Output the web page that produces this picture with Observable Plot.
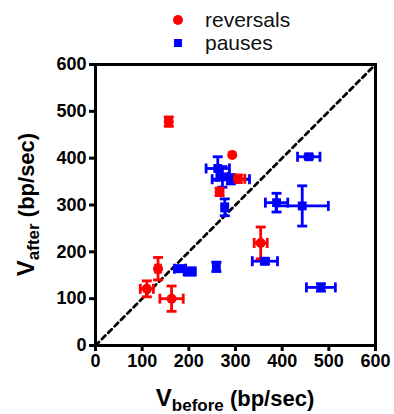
<!DOCTYPE html>
<html>
<head>
<meta charset="utf-8">
<script src="https://cdn.jsdelivr.net/npm/d3@7"></script>
<script src="https://cdn.jsdelivr.net/npm/@observablehq/plot@0.6"></script>
<style>
  html, body { margin: 0; padding: 0; background: #fff; }
  #chart svg g[aria-label$="tick"] { stroke-width: 3px; }
</style>
</head>
<body>
<div id="chart"></div>
<script>
// ---- data ----
const xTicks = [0, 100, 200, 300, 400, 500, 600];
const yTicks = [0, 100, 200, 300, 400, 500, 600];
const identityLine = [0, 600];

const revX    = [157, 293, 305, 266, 354, 134, 110, 163];
const revY    = [478, 407, 356, 328, 219, 164, 121, 100];
const revXErr = [6,   0,   15,  5,   14,  5,   14,  25];
const revYErr = [10,  0,   8,   8,   34,  24,  17,  27];

const pauX    = [262, 272, 290, 277, 457, 388, 443, 363, 483, 181, 202, 259];
const pauY    = [378, 360, 355, 295, 403, 305, 298, 180, 124, 164, 158, 168];
const pauXErr = [25,  12,  40,  6,   24,  24,  56,  27,  31,  12,  12,  4];
const pauYErr = [25,  22,  10,  18,  4,   20,  43,  6,   8,   6,   8,   10];

const seriesNames = ["reversals", "pauses"];
const seriesColors = ["#ff0000", "#0000ff"];

// ---- build tables ----
function table(xs, ys, xe, ye, series) {
  return xs.map((x, i) => ({x, y: ys[i], xe: xe[i], ye: ye[i], series}));
}
const rev = table(revX, revY, revXErr, revYErr, seriesNames[0]);
const pau = table(pauX, pauY, pauXErr, pauYErr, seriesNames[1]);
const all = [...pau, ...rev];
const withXErr = all.filter(d => d.xe > 0);
const withYErr = all.filter(d => d.ye > 0);

const capV = {draw(ctx, size) { const r = Math.sqrt(size / Math.PI); ctx.moveTo(0, -r); ctx.lineTo(0, r); }};
const capH = {draw(ctx, size) { const r = Math.sqrt(size / Math.PI); ctx.moveTo(-r, 0); ctx.lineTo(r, 0); }};
const colorOf = d => d.series === seriesNames[0] ? seriesColors[0] : seriesColors[1];

const errW = 2.8, capR = 5;

const chart = Plot.plot({
  width: 394,
  height: 414,
  marginLeft: 95,
  marginRight: 19,
  marginTop: 64,
  marginBottom: 69,
  style: {fontFamily: "'Liberation Sans', Arial, sans-serif", fontSize: "18px", fontWeight: "bold", color: "#000", background: "#fff"},
  x: {domain: [0, 600], ticks: xTicks, tickSize: 6, tickPadding: 3, label: null},
  y: {domain: [0, 600], ticks: yTicks, tickSize: 6, tickPadding: 3, label: null},
  marks: [
    Plot.line(identityLine, {x: d => d, y: d => d, stroke: "#000", strokeWidth: 2.8, strokeDasharray: "5,4"}),
    // error bars
    Plot.ruleY(withXErr, {y: "y", x1: d => d.x - d.xe, x2: d => d.x + d.xe, stroke: colorOf, strokeWidth: errW}),
    Plot.ruleX(withYErr, {x: "x", y1: d => d.y - d.ye, y2: d => d.y + d.ye, stroke: colorOf, strokeWidth: errW}),
    Plot.dot(withXErr, {x: d => d.x - d.xe, y: "y", symbol: capV, r: capR, stroke: colorOf, strokeWidth: errW, fill: "none"}),
    Plot.dot(withXErr, {x: d => d.x + d.xe, y: "y", symbol: capV, r: capR, stroke: colorOf, strokeWidth: errW, fill: "none"}),
    Plot.dot(withYErr, {x: "x", y: d => d.y - d.ye, symbol: capH, r: capR, stroke: colorOf, strokeWidth: errW, fill: "none"}),
    Plot.dot(withYErr, {x: "x", y: d => d.y + d.ye, symbol: capH, r: capR, stroke: colorOf, strokeWidth: errW, fill: "none"}),
    // markers
    Plot.dot(pau, {x: "x", y: "y", symbol: "square", r: 5, fill: seriesColors[1], stroke: "none"}),
    Plot.dot(rev, {x: "x", y: "y", symbol: "circle", r: 5, fill: seriesColors[0], stroke: "none"}),
    Plot.frame({stroke: "#000", strokeWidth: 3})
  ]
});

document.getElementById("chart").appendChild(chart);

// ---- axis titles with subscripts, and legend ----
const svg = d3.select(chart);
const font = "'Liberation Sans', Arial, sans-serif";
const xs = chart.scale("x"), ys = chart.scale("y");
const cx = (xs.apply(0) + xs.apply(600)) / 2;
const cy = (ys.apply(0) + ys.apply(600)) / 2;

function axisTitle(g, sub) {
  const t = g.append("text").attr("text-anchor", "middle").attr("font-family", font)
    .attr("font-weight", "bold").attr("fill", "#000");
  t.append("tspan").attr("font-size", 24).text("V");
  t.append("tspan").attr("font-size", 17).attr("dy", 5).text(sub);
  t.append("tspan").attr("font-size", 22).attr("dy", -5).text(" (bp/sec)");
}
axisTitle(svg.append("g").attr("transform", `translate(${cx},406)`), "before");
axisTitle(svg.append("g").attr("transform", `translate(34,${cy}) rotate(-90)`), "after");

const leg = svg.append("g").attr("font-family", font).attr("font-size", 21)
  .attr("font-weight", "normal").attr("text-anchor", "start");
leg.append("circle").attr("cx", 178).attr("cy", 20).attr("r", 5).attr("fill", seriesColors[0]);
leg.append("rect").attr("x", 174).attr("y", 39).attr("width", 8).attr("height", 8).attr("fill", seriesColors[1]);
leg.append("text").attr("x", 205).attr("y", 27).attr("fill", "#111").text(seriesNames[0]);
leg.append("text").attr("x", 205).attr("y", 50).attr("fill", "#111").text(seriesNames[1]);
</script>
</body>
</html>
